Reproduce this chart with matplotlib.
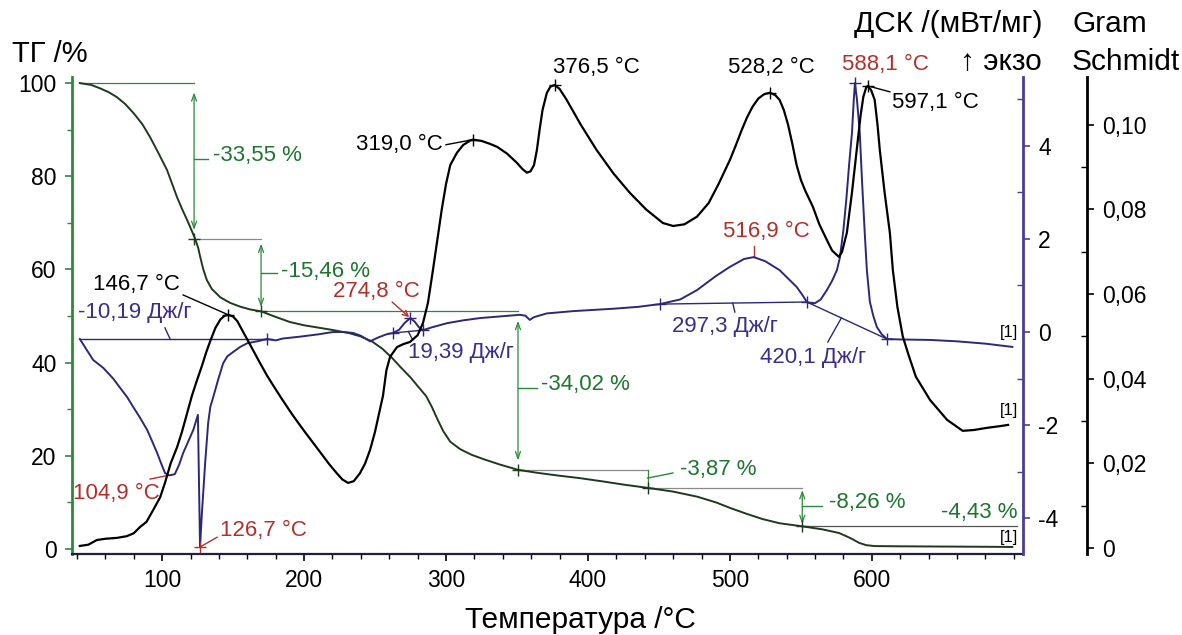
"""Simultaneous TG / DSC / Gram-Schmidt thermogram."""

import matplotlib
matplotlib.use('Agg')
import matplotlib.pyplot as plt

plt.rcParams['font.family'] = ['Liberation Sans', 'DejaVu Sans']
plt.rcParams['axes.unicode_minus'] = False

# --- TG curve (mass, %) -------------------------------------------------
tg_temp = [42, 50, 56, 62, 68, 74, 80, 86, 91.5, 97, 103.5, 110.5, 114,
           117.6, 121, 123.4, 125.5, 126.8, 129, 131.5, 135, 141, 148, 155,
           162, 169.7, 180, 190, 200, 210, 220, 232, 240, 248, 255, 262, 268,
           275, 281, 286, 290, 294, 298, 303, 310, 318, 327, 338, 350.7, 365,
           380, 394, 410, 425, 442, 460, 477, 490, 500, 512, 523, 535, 551,
           565, 577, 585, 591, 596, 602, 620, 650, 680, 699]
tg_mass = [100.0, 99.6, 98.9, 98.1, 97.0, 95.5, 93.5, 91.2, 88.4, 85.2, 81.3,
           75.5, 73.0, 70.6, 68.2, 66.45, 64.5, 62.7, 60.0, 57.7, 55.8, 54.0,
           52.8, 52.0, 51.4, 50.99, 49.8, 48.7, 48.0, 47.5, 47.0, 46.3, 45.6,
           44.5, 43.0, 41.0, 39.0, 36.8, 34.6, 32.8, 30.5, 27.8, 25.3, 23.0,
           21.4, 20.2, 19.2, 18.1, 16.97, 16.3, 15.7, 15.2, 14.5, 13.8, 13.1,
           12.3, 11.2, 10.0, 8.8, 7.5, 6.4, 5.5, 4.84, 4.2, 3.4, 2.3, 1.3, 0.8,
           0.6, 0.55, 0.5, 0.45, 0.41]

# TG steps: temperatures of the step points and the mass levels
tg_step_temp = [42, 122.5, 169.7, 350.7, 442, 551, 702]
tg_step_mass = [100.0, 66.45, 50.99, 16.97, 13.1, 4.84, 0.41]
tg_step_labels = ['-33,55 %', '-15,46 %', '-34,02 %', '-3,87 %', '-8,26 %',
                  '-4,43 %']

# --- DSC curve (mW/mg) ---------------------------------------------------
dsc_temp = [42, 47, 51.4, 58.5, 65.5, 70.4, 75.4, 79.6, 84, 89.4, 93,
            96.5, 99, 102, 104.9, 107, 109, 112, 114.8, 117, 119.7, 122,
            125.2, 126.7, 128, 130.3, 132.4, 134, 136, 139.4, 143, 146, 150,
            155, 160, 167, 174, 180, 185, 197, 210, 220.4, 228, 234.5, 240,
            246.5, 252, 258, 262.7, 267, 271, 274.8, 278, 281, 283.8, 290,
            300.7, 312, 324, 340, 352, 356, 359, 362, 371, 390, 417.6, 435,
            450.7, 465, 476.8, 490, 500, 510, 516.9, 525, 535, 542, 547, 551,
            554.2, 557, 560, 564, 568.3, 572, 575.4, 577.5, 580, 582, 584, 586,
            587.3, 588.1, 589.5, 591.5, 593, 595, 596.5, 598.6, 601, 603.5,
            607, 610.6, 620, 641, 660, 680, 699]
dsc_val = [-0.15, -0.39, -0.6, -0.77, -1.0, -1.2, -1.4, -1.61, -1.82, -2.1,
           -2.35, -2.6, -2.8, -3.03, -3.08, -3.07, -3.05, -2.85, -2.6, -2.45,
           -2.26, -2.1, -1.78, -4.62, -3.9, -2.82, -1.96, -1.6, -1.4, -1.03,
           -0.67, -0.52, -0.43, -0.32, -0.24, -0.2, -0.15, -0.18, -0.14, -0.1,
           -0.05, 0.0, 0.0, -0.02, -0.08, -0.2, -0.12, -0.05, -0.02, 0.05,
           0.2, 0.3, 0.22, 0.1, 0.04, 0.1, 0.19, 0.25, 0.3, 0.34, 0.37, 0.35,
           0.26, 0.32, 0.4, 0.45, 0.5, 0.54, 0.6, 0.7, 0.9, 1.2, 1.4, 1.57,
           1.61, 1.52, 1.33, 1.12, 0.97, 0.8, 0.645, 0.62, 0.62, 0.7, 0.9,
           1.1, 1.33, 1.6, 2.2, 2.84, 3.6, 4.28, 5.0, 5.35, 5.0, 4.28, 3.3,
           2.13, 1.33, 0.65, 0.35, 0.11, -0.05, -0.15, -0.16, -0.17, -0.2,
           -0.25, -0.32]

# integration baselines (T, DSC) pairs and their enthalpies
dsc_base_temp = [(42, 174), (262.7, 283.8), (450.7, 554.2), (554.2, 610.6)]
dsc_base_val = [(-0.15, -0.15), (-0.02, 0.04), (0.60, 0.645), (0.645, -0.15)]
dsc_area_labels = ['-10,19 Дж/г', '19,39 Дж/г', '297,3 Дж/г', '420,1 Дж/г']

# --- Gram-Schmidt curve ----------------------------------------------------
gs_temp = [42, 48, 54, 60, 68, 75, 80, 84.5, 89, 93.7, 98.6, 102, 106, 110.6,
           114, 117.6, 121, 124.6, 128, 131, 134, 137.5, 141, 144, 146.7, 150,
           153, 158, 164, 169, 174, 180, 185, 192, 200, 211, 218, 223, 227,
           231, 235, 239.4, 243, 246.5, 250, 253, 255.6, 258, 260.6, 265.5,
           270, 274.6, 280, 283.8, 287.3, 290.8, 294, 297, 300, 303, 307.7,
           312, 317, 319, 325, 331, 336, 343, 350, 354, 357, 359.5, 362, 364,
           366, 368, 371, 373.5, 376.5, 380, 385, 395, 406, 418, 429.6, 441,
           452.8, 460, 468, 476.8, 485, 492, 500, 504, 508, 512, 516, 520,
           524, 528.2, 532, 535, 538, 541, 544, 547, 550, 553, 558.5, 563,
           568.3, 572, 576.8, 579, 582.4, 586, 589.4, 592, 594, 596, 597.1,
           599.5, 602, 604, 605.6, 609, 612.7, 614.8, 618, 621.8, 626, 631,
           641, 653, 664, 672, 681, 690, 696]
gs_val = [0.0005, 0.0008, 0.0019, 0.0022, 0.0024, 0.0028, 0.0035, 0.0050,
          0.0062, 0.0090, 0.0120, 0.0154, 0.0200, 0.0239, 0.0275, 0.0319,
          0.0360, 0.0397, 0.0430, 0.0462, 0.0490, 0.0520, 0.0540, 0.0549,
          0.0551, 0.0547, 0.0536, 0.0505, 0.0468, 0.0437, 0.0407, 0.0375,
          0.0349, 0.0314, 0.0277, 0.0228, 0.0197, 0.0177, 0.0162, 0.0154,
          0.0158, 0.0177, 0.0200, 0.0232, 0.0275, 0.0320, 0.0360, 0.0420,
          0.0452, 0.0475, 0.0482, 0.0487, 0.0503, 0.0532, 0.0580, 0.0657,
          0.0730, 0.0800, 0.0860, 0.0905, 0.0934, 0.0952, 0.0963, 0.0965,
          0.0962, 0.0955, 0.0948, 0.0932, 0.0910, 0.0895, 0.0887, 0.0890,
          0.0905, 0.0940, 0.0990, 0.1035, 0.1075, 0.1090, 0.1094, 0.1085,
          0.1059, 0.1000, 0.0941, 0.0885, 0.0839, 0.0800, 0.0768, 0.0761,
          0.0765, 0.0783, 0.0815, 0.0860, 0.0917, 0.0950, 0.0985, 0.1017,
          0.1043, 0.1062, 0.1072, 0.1076, 0.1070, 0.1059, 0.1035, 0.1000,
          0.0955, 0.0905, 0.0870, 0.0845, 0.0806, 0.0765, 0.0728, 0.0703,
          0.0688, 0.0700, 0.0745, 0.0840, 0.0941, 0.1020, 0.1066, 0.1088,
          0.1092, 0.1082, 0.1059, 0.1000, 0.0941, 0.0840, 0.0745, 0.0657,
          0.0570, 0.0500, 0.0455, 0.0405, 0.0350, 0.0303, 0.0277, 0.0279,
          0.0284, 0.0288, 0.0291]

# peak temperatures
gs_peaks = [146.7, 319.0, 376.5, 528.2, 597.1]
dsc_peaks = [104.9, 126.7, 274.8, 516.9, 588.1]

GREEN = '#2b8a3a'
GREEN_TXT = '#1f7530'
TG_LINE = '#1e3a1e'
PURPLE = '#2c2878'
PURPLE_TXT = '#3d2c88'
RED = '#b0302b'
GREY = '#8a8a8a'
FS = 16
TITLE_FS = 21.5


def value_at(temps, vals, t):
    """Return the tabulated value at temperature t (nearest point)."""
    idx = min(range(len(temps)), key=lambda i: abs(temps[i] - t))
    return vals[idx]


def cross(axis, x, y, color):
    axis.plot([x], [y], ls='none', marker='+', ms=8, mew=1.0, color=color,
              zorder=5)


fig = plt.figure(figsize=(11.82, 6.35), dpi=100)
fig.subplots_adjust(left=72 / 1182, right=1023 / 1182,
                    bottom=1 - 554 / 635, top=1 - 77 / 635)
ax = fig.add_subplot(111)
ax_dsc = ax.twinx()
ax_gs = ax.twinx()

ax.set_xlim(36.5, 706.5)
ax.set_ylim(-1.1, 101.3)
ax_dsc.set_ylim(-4.77, 5.48)
ax_gs.set_ylim(-0.0014, 0.1113)

# ---- spines and ticks ----
for s in ('top', 'right'):
    ax.spines[s].set_visible(False)
ax.spines['left'].set_color(GREEN)
ax.spines['left'].set_linewidth(2)
ax.spines['bottom'].set_color('#20203a')
ax.spines['bottom'].set_linewidth(1.6)
ax.set_xticks([100, 200, 300, 400, 500, 600])
ax.set_xticks(range(40, 701, 20), minor=True)
ax.set_yticks([0, 20, 40, 60, 80, 100])
ax.set_yticks([10, 30, 50, 70, 90], minor=True)
ax.tick_params(axis='both', which='major', labelsize=16.5, length=5,
               width=1.2, direction='out')
ax.tick_params(axis='both', which='minor', length=3.5, width=1.0,
               direction='out')
ax.tick_params(axis='x', pad=6)
ax.tick_params(axis='y', pad=6, colors='black')
ax.tick_params(axis='y', which='both', color=GREEN)

for s in ('top', 'left', 'bottom'):
    ax_dsc.spines[s].set_visible(False)
    ax_gs.spines[s].set_visible(False)
ax_dsc.spines['right'].set_color('#4a3d96')
ax_dsc.spines['right'].set_linewidth(2)
ax_dsc.set_yticks([-4, -2, 0, 2, 4])
ax_dsc.set_yticks([-3, -1, 1, 3, 5], minor=True)
ax_dsc.tick_params(axis='y', which='major', labelsize=16.5, length=5,
                   width=1.2, direction='out', color='#4a3d96', pad=6)
ax_dsc.tick_params(axis='y', which='minor', length=4, width=1.0,
                   direction='in', color='#4a3d96')

ax_gs.spines['right'].set_position(('outward', 64 * 0.72))
ax_gs.spines['right'].set_color('black')
ax_gs.spines['right'].set_linewidth(2)
ax_gs.set_yticks([0, 0.02, 0.04, 0.06, 0.08, 0.10])
ax_gs.set_yticklabels(['0', '0,02', '0,04', '0,06', '0,08', '0,10'])
ax_gs.set_yticks([0.01, 0.03, 0.05, 0.07, 0.09], minor=True)
ax_gs.tick_params(axis='y', which='major', labelsize=16.5, length=5,
                  width=1.2, direction='out', pad=6)
ax_gs.tick_params(axis='y', which='minor', length=4, width=1.0,
                  direction='in')

# ---- TG curve with step annotations ----
ax.plot(tg_temp, tg_mass, color=TG_LINE, lw=1.4, zorder=3)
step_colors = [GREEN, GREY, GREEN, GREY, GREY, '#555555']
for i in range(len(tg_step_mass) - 1):
    x0, x1 = tg_step_temp[i], tg_step_temp[i + 1]
    y = tg_step_mass[i]
    ax.plot([x0, x1], [y, y], color=step_colors[i], lw=0.9, zorder=2)
for t, m in zip(tg_step_temp[1:-1], tg_step_mass[1:-1]):
    cross(ax, t, m, TG_LINE)

arrow_kw = dict(arrowstyle='<->,head_length=0.5,head_width=0.18',
                color=GREEN, lw=0.9, shrinkA=0, shrinkB=0)
for i in range(5):
    x = tg_step_temp[i + 1]
    top, bottom = tg_step_mass[i], tg_step_mass[i + 1]
    gap = 0.06 * (top - bottom)
    if i == 3:
        ax.plot([x, x], [top, bottom], color=GREEN, lw=0.9)
    else:
        ax.annotate('', xy=(x, bottom + gap), xytext=(x, top - gap),
                    arrowprops=arrow_kw)

# label positions for the mass losses: (leader start, leader end, text)
tg_label_pos = [((122.5, 83.7), (132.4, 83.7), (135.9, 84.5)),
                ((169.7, 59.2), (181.0, 59.2), (184.0, 59.5)),
                ((350.7, 34.6), (364.0, 34.6), (367.0, 35.2)),
                ((442.0, 15.2), (459.9, 16.3), (464.8, 17.0)),
                ((551.0, 9.3), (564.8, 9.3), (569.5, 9.9))]
for lab, (p0, p1, pt) in zip(tg_step_labels, tg_label_pos):
    ax.plot([p0[0], p1[0]], [p0[1], p1[1]], color=GREEN, lw=1.0)
    ax.text(pt[0], pt[1], lab, color=GREEN_TXT, fontsize=FS,
            ha='left', va='center')
ax.text(702.8, 7.9, tg_step_labels[5], color=GREEN_TXT, fontsize=FS,
        ha='right', va='center')

# ---- DSC curve ----
ax_dsc.plot(dsc_temp, dsc_val, color=PURPLE, lw=1.4, zorder=3)
for (t0, t1), (v0, v1) in zip(dsc_base_temp, dsc_base_val):
    ax_dsc.plot([t0, t1], [v0, v1], color=PURPLE, lw=1.0, zorder=2)
    cross(ax_dsc, t1, v1, PURPLE)
cross(ax_dsc, 262.7, -0.02, PURPLE)
cross(ax_dsc, 450.7, 0.60, PURPLE)
for t in (274.8, 588.1):
    cross(ax_dsc, t, value_at(dsc_temp, dsc_val, t), PURPLE)

# enthalpy labels with their leaders
area_leaders = [((102.0, 0.09), (105.6, -0.15)),
                ((273.5, 0.01), (276.5, -0.17)),
                ((502.0, 0.622), (503.5, 0.43)),
                ((578.5, 0.30), (569.0, -0.215))]
area_text_pos = [(40.8, 0.41), (273.2, -0.45), (459.0, 0.11), (521.0, -0.54)]
for lab, (p0, p1), pt in zip(dsc_area_labels, area_leaders, area_text_pos):
    ax_dsc.plot([p0[0], p1[0]], [p0[1], p1[1]], color=PURPLE, lw=1.0)
    ax_dsc.text(pt[0], pt[1], lab, color=PURPLE_TXT, fontsize=FS,
                ha='left', va='center')

# DSC peak labels (red)
v104 = value_at(dsc_temp, dsc_val, 104.9)
ax_dsc.plot([91.5, 104.4], [-3.16, v104], color=RED, lw=1.0)
ax_dsc.text(98.6, -3.46, '104,9 °C', color=RED, fontsize=FS,
            ha='right', va='center')
v126 = value_at(dsc_temp, dsc_val, 126.7)
ax_dsc.plot([126.7, 138.7], [v126, -4.41], color=RED, lw=1.0)
cross(ax_dsc, 126.7, v126, RED)
ax_dsc.text(140.8, -4.26, '126,7 °C', color=RED, fontsize=FS,
            ha='left', va='center')
v274 = value_at(dsc_temp, dsc_val, 274.8)
ax_dsc.annotate('', xy=(274.8, v274), xytext=(262.0, 0.645),
                arrowprops=dict(arrowstyle='->,head_length=0.4,head_width=0.2',
                                color=RED, lw=1.0, shrinkA=0, shrinkB=1))
ax_dsc.text(220.4, 0.86, '274,8 °C', color=RED, fontsize=FS,
            ha='left', va='center')
v516 = value_at(dsc_temp, dsc_val, 516.9)
ax_dsc.plot([516.9, 516.9], [v516, v516 + 0.24], color=RED, lw=1.0)
ax_dsc.text(495.0, 2.15, '516,9 °C', color=RED, fontsize=FS,
            ha='left', va='center')
ax_dsc.text(578.9, 5.74, '588,1 °C', color=RED, fontsize=FS,
            ha='left', va='center')

# ---- Gram-Schmidt curve ----
ax_gs.plot(gs_temp, gs_val, color='black', lw=1.6, zorder=4)
for t in gs_peaks:
    cross(ax_gs, t, value_at(gs_temp, gs_val, t), 'black')
v146 = value_at(gs_temp, gs_val, 146.7)
ax_gs.plot([114.8, 146.7], [0.0598, v146], color='black', lw=1.0)
ax_gs.text(51.4, 0.0622, '146,7 °C', fontsize=FS, ha='left', va='center')
v319 = value_at(gs_temp, gs_val, 319.0)
ax_gs.plot([300.0, 319.0], [0.0953, v319], color='black', lw=1.0)
ax_gs.text(297.9, 0.0953, '319,0 °C', fontsize=FS, ha='right', va='center')
ax_gs.text(375.4, 0.1135, '376,5 °C', fontsize=FS, ha='left', va='center')
ax_gs.text(498.6, 0.1135, '528,2 °C', fontsize=FS, ha='left', va='center')
v597 = value_at(gs_temp, gs_val, 597.1)
ax_gs.plot([597.1, 612.7], [v597, 0.1078], color='black', lw=1.0)
ax_gs.text(614.0, 0.1052, '597,1 °C', fontsize=FS, ha='left', va='center')

# segment markers at the curve ends
for y in (0.0, -1.68, -4.41):
    ax_dsc.text(702.8, y, '[1]', fontsize=12, ha='right', va='center')

# ---- axis titles ----
fig.text(12 / 1182, 1 - 54 / 635, 'ТГ /%', fontsize=21, va='center')
fig.text(1042 / 1182, 1 - 24 / 635, 'ДСК /(мВт/мг)', fontsize=TITLE_FS,
         ha='right', va='center')
fig.text(1042 / 1182, 1 - 62 / 635, '↑ экзо', fontsize=TITLE_FS,
         ha='right', va='center')
fig.text(1072 / 1182, 1 - 24 / 635, 'Gram', fontsize=TITLE_FS, va='center')
fig.text(1072 / 1182, 1 - 62 / 635, 'Schmidt', fontsize=TITLE_FS,
         va='center')
fig.text(580 / 1182, 1 - 628 / 635, 'Температура /°C', fontsize=TITLE_FS,
         ha='center', va='baseline')

fig.savefig('out.png', dpi=100)
